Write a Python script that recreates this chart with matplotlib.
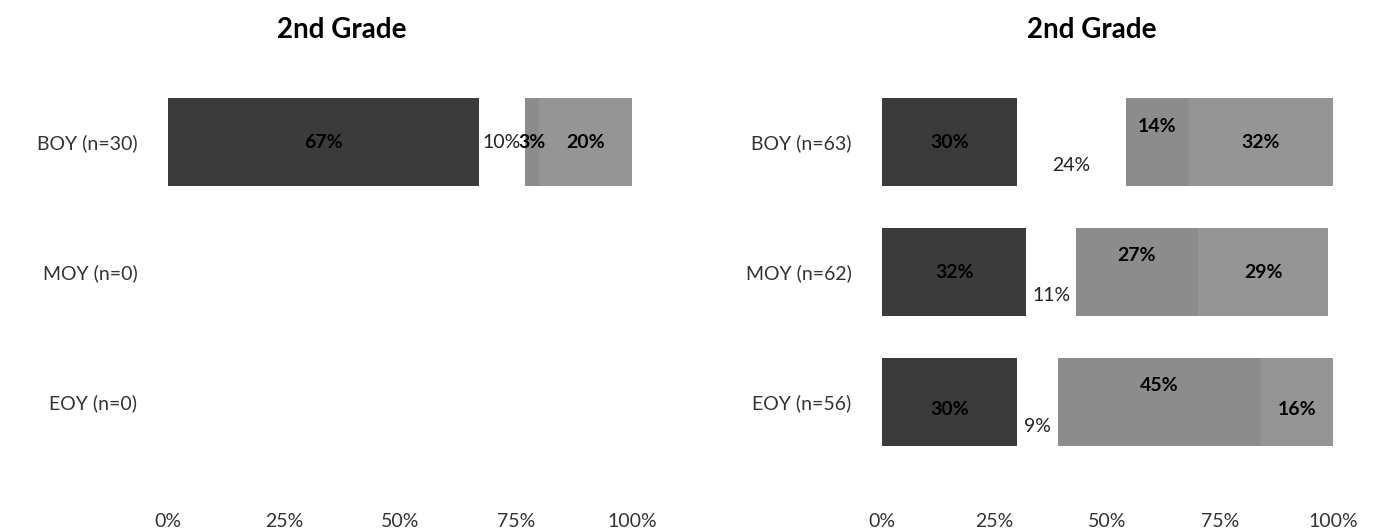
import matplotlib.pyplot as plt
import numpy as np

plt.rcParams['font.family'] = ['Lato', 'DejaVu Sans']

# left panel: one class, only BOY tested
left_periods = ['BOY (n=30)', 'MOY (n=0)', 'EOY (n=0)']
left_well_below = [67, 0, 0]
left_below = [10, 0, 0]
left_near = [3, 0, 0]
left_at = [20, 0, 0]

# right panel: whole grade
right_periods = ['BOY (n=63)', 'MOY (n=62)', 'EOY (n=56)']
right_well_below = [30, 32, 30]
right_below = [24, 11, 9]
right_near = [14, 27, 45]
right_at = [32, 29, 16]

tick_vals = [0, 25, 50, 75, 100]
tick_text = ['0%', '25%', '50%', '75%', '100%']

seg_colors = ['#3b3b3b', '#ffffff', '#8c8c8c', '#959595']
W, H = 1385, 529


def stacked(ax, periods, series, shifts):
    y = np.arange(len(periods))
    start = np.zeros(len(periods))
    for k, vals in enumerate(series):
        vals = np.array(vals, dtype=float)
        ax.barh(y, vals, left=start, height=0.67, color=seg_colors[k], linewidth=0)
        for i, v in enumerate(vals):
            if v <= 0:
                continue
            ax.text(start[i] + v / 2, y[i] + shifts[k][i], f'{v:.0f}%',
                    ha='center', va='center', fontsize=14,
                    fontweight='normal' if k == 1 else 'bold',
                    color='#222222' if k == 1 else 'black')
        start += vals
    ax.set_xlim(0, 100)
    ax.set_ylim(2.75, -0.6)
    ax.set_yticks(y)
    ax.set_yticklabels(periods, fontsize=14, color='#333333')
    ax.set_xticks(tick_vals)
    ax.set_xticklabels(tick_text, fontsize=14, color='#333333')
    ax.tick_params(axis='y', length=0, pad=22)
    ax.tick_params(axis='x', length=0, pad=10)
    for s in ax.spines.values():
        s.set_visible(False)


fig = plt.figure(figsize=(W / 100, H / 100), dpi=100)
ax1 = fig.add_axes([168 / W, 1 - 499.5 / H, 464 / W, 435.5 / H])
ax2 = fig.add_axes([882 / W, 1 - 499.5 / H, 451 / W, 435.5 / H])

no_shift = [[0, 0, 0]] * 4
stacked(ax1, left_periods,
        [left_well_below, left_below, left_near, left_at], no_shift)

# label nudges on the grade panel (fractions of a bar row)
right_shift = [[0, 0, 0.06], [0.18, 0.18, 0.19], [-0.12, -0.13, -0.13], [0, 0, 0.06]]
stacked(ax2, right_periods,
        [right_well_below, right_below, right_near, right_at], right_shift)

fig.text(342 / W, 1 - 30 / H, '2nd Grade', ha='center', va='center',
         fontsize=20, fontweight='bold')
fig.text(1092 / W, 1 - 30 / H, '2nd Grade', ha='center', va='center',
         fontsize=20, fontweight='bold')

fig.savefig('out.png', dpi=100)
